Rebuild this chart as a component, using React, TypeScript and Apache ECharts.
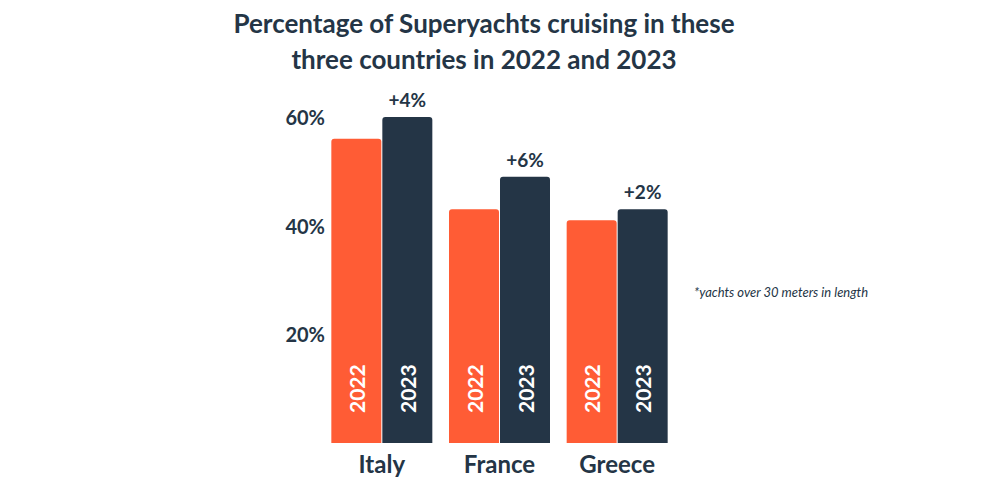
import React, { useEffect, useRef } from "react";
import * as echarts from "echarts";

const categories = ["Italy", "France", "Greece"];
const years = ["2022", "2023"];
const values2022 = [56, 43, 41];
const values2023 = [60, 49, 43];
const yTicks = [0, 20, 40, 60];

const ORANGE = "#FF5C35";
const DARK = "#243546";
const FONT = "Lato, 'Open Sans', sans-serif";

export default function App() {
  const ref = useRef<HTMLDivElement>(null);
  useEffect(() => {
    if (!ref.current) return;
    const chart = echarts.init(ref.current, null, { renderer: "svg" });
    const yearLabel = {
      show: true,
      position: "insideBottom",
      rotate: 90,
      align: "left",
      verticalAlign: "middle",
      distance: 30,
      color: "#ffffff",
      fontFamily: FONT,
      fontWeight: "bold",
      fontSize: 21,
    };
    chart.setOption({
      animation: false,
      backgroundColor: "#ffffff",
      title: {
        text: "Percentage of Superyachts cruising in these\nthree countries in 2022 and 2023",
        left: 479,
        top: 0,
        textAlign: "center",
        textStyle: {
          fontFamily: FONT,
          fontWeight: "bold",
          fontSize: 26,
          lineHeight: 36,
          color: DARK,
        },
      },
      graphic: [
        {
          type: "text",
          left: 694,
          top: 285,
          style: {
            text: "*yachts over 30 meters in length",
            fontFamily: FONT,
            fontStyle: "italic",
            fontSize: 13,
            fill: DARK,
          },
        },
      ],
      grid: { left: 323, right: 324, top: 117, bottom: 57, containLabel: false },
      xAxis: {
        type: "category",
        data: categories,
        axisLine: { show: false },
        axisTick: { show: false },
        axisLabel: {
          color: DARK,
          fontFamily: FONT,
          fontWeight: "bold",
          fontSize: 24,
          margin: 8,
        },
      },
      yAxis: {
        type: "value",
        min: yTicks[0],
        max: yTicks[yTicks.length - 1],
        interval: 20,
        splitLine: { show: false },
        axisLine: { show: false },
        axisTick: { show: false },
        axisLabel: {
          color: DARK,
          fontFamily: FONT,
          fontWeight: "bold",
          fontSize: 20,
          margin: -2,
          formatter: (v: number) => (v === 0 ? "" : v + "%"),
        },
      },
      series: [
        {
          name: years[0],
          type: "bar",
          data: values2022,
          barWidth: 50,
          barGap: "2%",
          itemStyle: { color: ORANGE, borderRadius: [3, 3, 0, 0] },
          label: { ...yearLabel, formatter: years[0] },
        },
        {
          name: years[1],
          type: "bar",
          data: values2023,
          barWidth: 50,
          itemStyle: { color: DARK, borderRadius: [3, 3, 0, 0] },
          label: { ...yearLabel, formatter: years[1] },
        },
        {
          type: "scatter",
          data: values2023,
          symbolSize: 0,
          silent: true,
          itemStyle: { opacity: 1, color: DARK },
          label: {
            show: true,
            position: "top",
            distance: 8,
            offset: [25.5, 0],
            color: DARK,
            opacity: 1,
            fontFamily: FONT,
            fontWeight: "bold",
            fontSize: 19,
            formatter: (p: any) => "+" + (values2023[p.dataIndex] - values2022[p.dataIndex]) + "%",
          },
        },
      ],
    });
    return () => chart.dispose();
  }, []);
  return (
    <div
      ref={ref}
      style={{ position: "absolute", left: 0, top: 0, width: 1000, height: 500 }}
    />
  );
}
